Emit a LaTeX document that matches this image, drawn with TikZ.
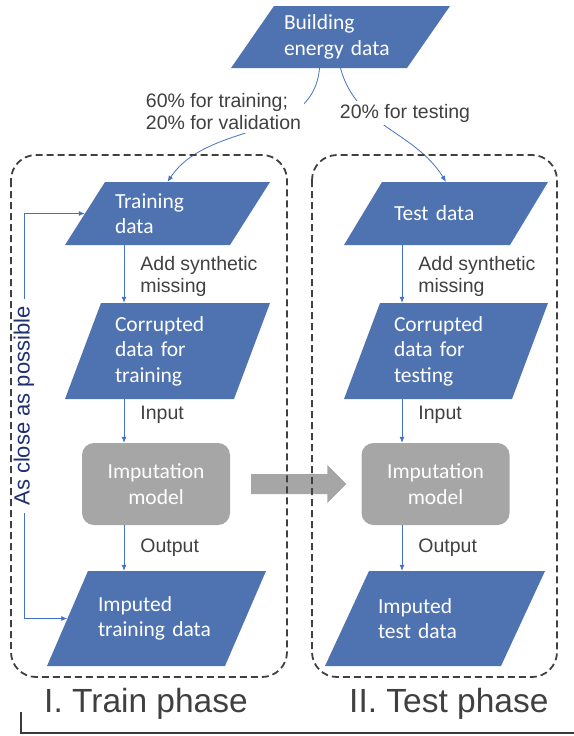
\documentclass[tikz,border=0pt]{standalone}
\usepackage{fontspec}
\setmainfont{Liberation Sans}
\newfontfamily\boxfont{Carlito}
\usetikzlibrary{calc,arrows.meta}
\definecolor{parablue}{HTML}{4F72B0}
\definecolor{linkblue}{HTML}{4472C4}
\definecolor{modelgray}{HTML}{A6A6A6}
\definecolor{txtgray}{HTML}{404040}
\definecolor{navy}{HTML}{1F3070}
\tikzset{
  para/.style n args={4}{rectangle,inner sep=0pt,minimum width=#1,minimum height=#2,text width=#4,
    align=left,text=white,font=\boxfont\fontsize{21.5}{25.5}\selectfont,
    path picture={\fill[parablue] (path picture bounding box.south west)
      -- ([xshift=-#3]path picture bounding box.south east)
      -- (path picture bounding box.north east)
      -- ([xshift=#3]path picture bounding box.north west) -- cycle;}},
  model/.style={rectangle,rounded corners=12pt,fill=modelgray,minimum width=148,minimum height=82,
    text=white,align=center,font=\boxfont\fontsize{21.5}{25.5}\selectfont},
  conn/.style={draw=linkblue,line width=0.8pt,-{Latex[length=6pt,width=5pt]}},
  lab/.style={right,inner sep=0pt,xshift=16pt,align=left,text=txtgray,font=\fontsize{19.5}{22}\selectfont},
  cut/.style={fill=white,inner sep=3pt,align=left,text=txtgray,font=\fontsize{19.5}{22}\selectfont},
  group/.style={draw=txtgray,line width=1.8pt,dash pattern=on 7pt off 4pt,rounded corners=25pt},
  phase/.style={anchor=base west,inner sep=0pt,text=txtgray,font=\fontsize{33.5}{40}\selectfont}
}
\begin{document}
\begin{tikzpicture}[x=1pt,y=1pt]
  \useasboundingbox (0,0) rectangle (573,-736);
  \node[para={219}{62}{43}{113}] (bed) at (340.5,-37) {Building\\energy data};
  \node[para={205}{63}{40}{105}] (trd) at (167.5,-213.5) {Training\\data};
  \node[para={204}{63}{38}{104}] (ted) at (446,-213.5) {Test data};
  \node[para={205}{96}{36}{105}] (ctr) at (167.5,-351) {Corrupted\\data for\\training};
  \node[para={204}{96}{36}{104}] (cte) at (446,-351) {Corrupted\\data for\\testing};
  \node[model] (mtr) at (156,-484) {Imputation\\model};
  \node[model] (mte) at (435.5,-484) {Imputation\\model};
  \node[para={219}{95}{41}{117}] (itr) at (156.5,-618.5) {Imputed\\training data};
  \node[para={220}{95}{44}{114}] (ite) at (435,-618.5) {Imputed\\test data};

  \draw[conn] ([xshift=-21pt]bed.south) to[out=-95,in=56] (trd.north);
  \draw[conn] (bed.south) to[out=-75,in=122] (ted.north);
  \node[cut] (split) at (223.5,-112) {60\% for training;\\20\% for validation};
  \node[cut] (testcut) at (405,-113) {20\% for testing};

  \coordinate (colA) at (124,0);
  \coordinate (colB) at (402,0);
  \draw[conn] (trd.south -| colA) -- node[lab,pos=0.55] {Add synthetic\\missing} (ctr.north -| colA);
  \draw[conn] (ctr.south -| colA) -- node[lab,pos=0.35] {Input} (mtr.north -| colA);
  \draw[conn] (mtr.south -| colA) -- node[lab] {Output} (itr.north -| colA);
  \draw[conn] (ted.south -| colB) -- node[lab,pos=0.55] {Add synthetic\\missing} (cte.north -| colB);
  \draw[conn] (cte.south -| colB) -- node[lab,pos=0.35] {Input} (mte.north -| colB);
  \draw[conn] (mte.south -| colB) -- node[lab] {Output} (ite.north -| colB);

  \coordinate (back) at (24,-400);
  \draw[conn,{Latex[length=6pt,width=5pt]}-{Latex[length=6pt,width=5pt]}]
    ([xshift=20pt]trd.west) -| (back) |- ([xshift=20.5pt]itr.west);
  \node[rotate=90,fill=white,inner xsep=7pt,inner ysep=1pt,text=navy,font=\fontsize{22}{26}\selectfont]
    (close) at (24,-406) {As close as possible};

  \fill[modelgray] ([shift={(21,10)}]mtr.east) -- ([shift={(-34,10)}]mte.west)
    -- ([shift={(-34,19)}]mte.west) -- ([xshift=-15]mte.west) -- ([shift={(-34,-19)}]mte.west)
    -- ([shift={(-34,-10)}]mte.west) -- ([shift={(21,-10)}]mtr.east) -- cycle;

  \draw[group] (11,-155) rectangle (287,-677);
  \draw[group] (312,-155) rectangle (557,-677);
  \node[phase] (ph1) at (44,-712) {I. Train phase};
  \node[phase] (ph2) at (349,-712) {II. Test phase};
  \draw[line width=2.5pt,color=txtgray!90!black] (21,-712) -- (21,-733) -- (600,-733);
\end{tikzpicture}
\end{document}
